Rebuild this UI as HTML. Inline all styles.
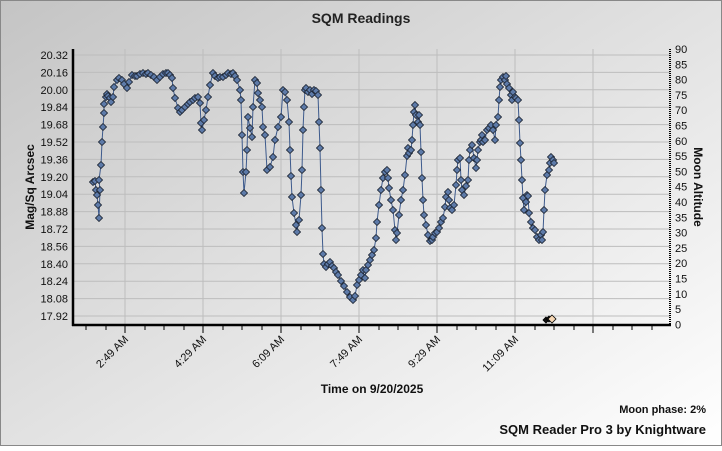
<!DOCTYPE html>
<html><head><meta charset="utf-8"><style>
html,body{margin:0;padding:0}
body{width:722px;height:446px;overflow:hidden;font-family:"Liberation Sans",Arial,sans-serif}
</style></head><body>
<svg width="722" height="446" viewBox="0 0 722 446" xmlns="http://www.w3.org/2000/svg" font-family="Liberation Sans, Arial, sans-serif">
<defs>
<linearGradient id="bg" x1="0" y1="0" x2="1" y2="1">
<stop offset="0" stop-color="#c4c4c4"/><stop offset="1" stop-color="#ffffff"/>
</linearGradient>
<marker id="d" markerWidth="8" markerHeight="8" refX="4" refY="4" markerUnits="userSpaceOnUse">
<path d="M4 0.5 L7.5 4 L4 7.5 L0.5 4 Z" fill="#5d7aa8" stroke="#1a2230" stroke-width="0.8"/>
</marker>
</defs>
<rect x="0.5" y="0.5" width="721" height="445" fill="url(#bg)" stroke="#888"/>
<text x="361" y="23" text-anchor="middle" font-size="14" font-weight="bold" fill="#222">SQM Readings</text>
<g stroke="#bdbdbd" stroke-width="1">
<line x1="73" y1="55" x2="670" y2="55"/><line x1="73" y1="72.4" x2="670" y2="72.4"/><line x1="73" y1="89.8" x2="670" y2="89.8"/><line x1="73" y1="107.2" x2="670" y2="107.2"/><line x1="73" y1="124.6" x2="670" y2="124.6"/><line x1="73" y1="142" x2="670" y2="142"/><line x1="73" y1="159.4" x2="670" y2="159.4"/><line x1="73" y1="176.8" x2="670" y2="176.8"/><line x1="73" y1="194.2" x2="670" y2="194.2"/><line x1="73" y1="211.6" x2="670" y2="211.6"/><line x1="73" y1="229" x2="670" y2="229"/><line x1="73" y1="246.4" x2="670" y2="246.4"/><line x1="73" y1="263.8" x2="670" y2="263.8"/><line x1="73" y1="281.2" x2="670" y2="281.2"/><line x1="73" y1="298.6" x2="670" y2="298.6"/><line x1="73" y1="316" x2="670" y2="316"/>
<line x1="125" y1="49" x2="125" y2="325"/><line x1="203" y1="49" x2="203" y2="325"/><line x1="281" y1="49" x2="281" y2="325"/><line x1="359" y1="49" x2="359" y2="325"/><line x1="437" y1="49" x2="437" y2="325"/><line x1="515" y1="49" x2="515" y2="325"/><line x1="593" y1="49" x2="593" y2="325"/>
</g>
<line x1="73" y1="49" x2="73" y2="326" stroke="#000" stroke-width="2.5"/>
<line x1="72" y1="325" x2="671" y2="325" stroke="#000" stroke-width="2.5"/>
<line x1="670" y1="49" x2="670" y2="326" stroke="#000" stroke-width="2" stroke-dasharray="1 1"/>
<g stroke="#000" stroke-width="1">
<line x1="86" y1="325" x2="86" y2="330"/><line x1="106" y1="325" x2="106" y2="330"/><line x1="125" y1="325" x2="125" y2="333"/><line x1="145" y1="325" x2="145" y2="330"/><line x1="164" y1="325" x2="164" y2="330"/><line x1="184" y1="325" x2="184" y2="330"/><line x1="203" y1="325" x2="203" y2="333"/><line x1="223" y1="325" x2="223" y2="330"/><line x1="242" y1="325" x2="242" y2="330"/><line x1="262" y1="325" x2="262" y2="330"/><line x1="281" y1="325" x2="281" y2="333"/><line x1="301" y1="325" x2="301" y2="330"/><line x1="320" y1="325" x2="320" y2="330"/><line x1="340" y1="325" x2="340" y2="330"/><line x1="359" y1="325" x2="359" y2="333"/><line x1="379" y1="325" x2="379" y2="330"/><line x1="398" y1="325" x2="398" y2="330"/><line x1="418" y1="325" x2="418" y2="330"/><line x1="437" y1="325" x2="437" y2="333"/><line x1="457" y1="325" x2="457" y2="330"/><line x1="476" y1="325" x2="476" y2="330"/><line x1="496" y1="325" x2="496" y2="330"/><line x1="515" y1="325" x2="515" y2="333"/><line x1="535" y1="325" x2="535" y2="330"/><line x1="554" y1="325" x2="554" y2="330"/><line x1="574" y1="325" x2="574" y2="330"/><line x1="593" y1="325" x2="593" y2="333"/><line x1="613" y1="325" x2="613" y2="330"/><line x1="632" y1="325" x2="632" y2="330"/><line x1="652" y1="325" x2="652" y2="330"/>
</g>
<g font-size="11" fill="#111" text-anchor="end">
<text x="68" y="59">20.32</text><text x="68" y="76.4">20.16</text><text x="68" y="93.8">20.00</text><text x="68" y="111.2">19.84</text><text x="68" y="128.6">19.68</text><text x="68" y="146">19.52</text><text x="68" y="163.4">19.36</text><text x="68" y="180.8">19.20</text><text x="68" y="198.2">19.04</text><text x="68" y="215.6">18.88</text><text x="68" y="233">18.72</text><text x="68" y="250.4">18.56</text><text x="68" y="267.8">18.40</text><text x="68" y="285.2">18.24</text><text x="68" y="302.6">18.08</text><text x="68" y="320">17.92</text>
</g>
<g font-size="11" fill="#111">
<text x="675" y="53">90</text><text x="675" y="68.3">85</text><text x="675" y="83.6">80</text><text x="675" y="98.9">75</text><text x="675" y="114.2">70</text><text x="675" y="129.5">65</text><text x="675" y="144.8">60</text><text x="675" y="160.1">55</text><text x="675" y="175.4">50</text><text x="675" y="190.7">45</text><text x="675" y="206">40</text><text x="675" y="221.3">35</text><text x="675" y="236.6">30</text><text x="675" y="251.9">25</text><text x="675" y="267.2">20</text><text x="675" y="282.5">15</text><text x="675" y="297.8">10</text><text x="675" y="313.1">5</text><text x="675" y="328.4">0</text>
</g>
<g font-size="11" fill="#111" text-anchor="end">
<text transform="translate(129,340) rotate(-45)">2:49 AM</text>
<text transform="translate(207,340) rotate(-45)">4:29 AM</text>
<text transform="translate(285,340) rotate(-45)">6:09 AM</text>
<text transform="translate(363,340) rotate(-45)">7:49 AM</text>
<text transform="translate(441,340) rotate(-45)">9:29 AM</text>
<text transform="translate(519,340) rotate(-45)">11:09 AM</text>
</g>
<text transform="translate(34,187) rotate(-90)" text-anchor="middle" font-size="12" font-weight="bold" fill="#111">Mag/Sq Arcsec</text>
<text transform="translate(694,187) rotate(90)" text-anchor="middle" font-size="12" font-weight="bold" fill="#111">Moon Altitude</text>
<text x="372" y="393" text-anchor="middle" font-size="12" font-weight="bold" fill="#111">Time on 9/20/2025</text>
<text x="706" y="413" text-anchor="end" font-size="11" font-weight="bold" fill="#111">Moon phase: 2%</text>
<text x="706" y="434" text-anchor="end" font-size="13" font-weight="bold" fill="#111">SQM Reader Pro 3 by Knightware</text>
<polyline fill="none" stroke="#3d5a8c" stroke-width="1" marker-start="url(#d)" marker-mid="url(#d)" marker-end="url(#d)" points="93,182 95,181 96,190 97,195 98,205 99,218 100,190 99,180 101,165 102,142 103,127 104,113 104,104 106,97 107,94 108,96 110,98 111,102 113,97 114,87 117,80 119,78 122,80 124,84 127,88 129,82 132,75 135,76 137,76 140,74 143,73 146,74 148,73 151,75 154,77 157,80 160,77 163,74 166,73 168,73 170,75 172,78 173,88 175,98 178,108 180,112 182,110 185,107 188,104 190,102 193,100 195,98 198,97 200,103 201,123 202,130 204,120 206,110 208,97 210,85 213,73 215,76 218,78 220,77 223,77 226,75 228,73 231,74 233,73 235,76 237,80 240,90 241,100 242,135 243,172 244,193 246,172 247,150 248,117 250,128 252,137 253,107 255,80 257,83 258,93 260,100 262,107 263,127 265,135 267,170 270,167 273,157 275,140 278,127 281,117 283,90 285,92 287,100 289,122 290,150 291,176 292,197 294,213 296,225 297,232 299,220 301,195 302,170 303,130 304,107 305,90 306,88 308,92 310,90 312,94 314,90 316,91 318,95 319,122 320,148 321,190 322,228 323,254 324,264 326,267 328,264 330,262 332,266 334,268 336,272 338,275 341,281 344,286 347,292 350,297 353,300 355,296 357,285 359,280 361,275 363,270 365,278 366,270 368,265 370,260 372,255 374,250 376,238 377,222 379,205 381,190 383,178 385,172 387,170 388,178 389,188 391,200 393,210 395,230 396,240 397,233 399,215 401,200 403,190 405,175 407,156 408,148 409,153 411,150 412,140 413,125 414,112 415,105 416,115 418,122 419,115 420,125 421,152 422,178 423,200 424,215 426,225 428,235 430,241 432,240 433,237 435,233 437,232 439,228 441,222 443,218 445,207 446,197 448,192 449,200 450,208 452,210 454,205 456,185 457,170 458,160 460,158 461,180 462,190 464,195 466,186 468,180 469,160 470,150 472,145 474,158 476,168 477,160 478,150 480,142 481,140 482,135 483,142 485,140 487,130 489,128 491,125 493,130 495,140 496,125 498,117 499,100 500,87 501,80 503,77 505,80 506,76 507,84 509,88 511,95 512,100 513,92 515,97 516,98 518,100 519,120 520,143 521,160 522,180 523,198 524,210 526,202 527,195 528,196 529,213 531,222 533,228 535,230 537,237 539,240 541,235 542,240 543,232 544,210 545,190 547,175 549,170 550,163 551,157 553,160 554,163"/>
<g stroke="#000" stroke-width="0.8">
<path d="M546 317 L549 320 L546 323 L543 320 Z" fill="#111"/>
<path d="M549 316 L552 319 L549 322 L546 319 Z" fill="#111"/>
<path d="M552 315 L556 319 L552 323 L548 319 Z" fill="#f6d7b4"/>
</g>
</svg>
</body></html>
